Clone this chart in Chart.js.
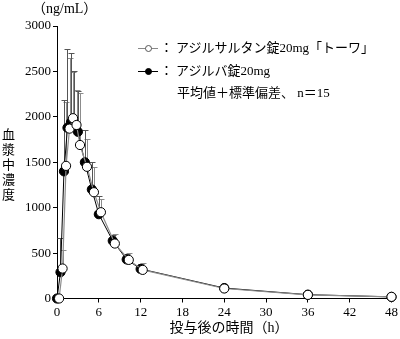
<!DOCTYPE html>
<html lang="ja">
<head>
<meta charset="utf-8">
<script src="https://cdn.jsdelivr.net/npm/chart.js@4/dist/chart.umd.min.js"></script>
<style>
  html, body { margin: 0; padding: 0; background: #fff; }
  #wrap { position: relative; width: 400px; height: 339px; overflow: hidden; }
  #plot { position: absolute; left: 0; top: 0; }
  .txt { position: absolute; color: #000; white-space: nowrap; font-family: "Liberation Serif", "Noto Sans CJK JP", serif; }
  #unit { left: 32px; top: 0px; font-size: 14px; line-height: 17px; }
  #ytitle { left: 0px; top: 128px; font-size: 13px; writing-mode: vertical-rl; letter-spacing: 2px; line-height: 14px; }
  #xtitle { left: 0; width: 458px; text-align: center; top: 319px; font-size: 14px; line-height: 18px; }
  .row { left: 138px; font-size: 13px; line-height: 18px; }
  .sym { display: inline-block; position: relative; width: 20px; height: 18px; vertical-align: top; margin-right: 2px; }
  .sym::before { content: ""; position: absolute; left: 0; right: 0; top: 9px; border-top: 1px solid #000; }
  .sym::after { content: ""; position: absolute; left: 7px; top: 6px; width: 5px; height: 5px; border-radius: 50%; border: 1px solid #000; background: #000; }
  .sym.open::before { border-top-color: #888; }
  .sym.open::after { background: #fff; border-color: #555; }
  .colon { margin-right: 3px; }
</style>
</head>
<body>
<div id="wrap">
  <canvas id="plot" width="400" height="339"></canvas>
  <div class="txt" id="unit">（ng/mL）</div>
  <div class="txt" id="ytitle">血漿中濃度</div>
  <div class="txt" id="xtitle">投与後の時間（h）</div>
  <div class="txt row" style="top:39px"><span class="sym open"></span><span class="colon">：</span>アジルサルタン錠20mg「トーワ」</div>
  <div class="txt row" style="top:62px"><span class="sym"></span><span class="colon">：</span>アジルバ錠20mg</div>
  <div class="txt row" style="top:84px; left:177px">平均値＋標準偏差、 n＝15</div>
</div>
<script>
// sampling times (h)
const hours = [0, 0.5, 1, 1.5, 2, 2.5, 3, 4, 5, 6, 8, 10, 12, 24, 36, 48];

// アジルサルタン錠20mg「トーワ」 (ng/mL)
const towaMean = [0, 330, 1460, 1870, 1985, 1910, 1690, 1450, 1170, 950, 605, 425, 315, 110, 40, 18];
const towaSD = [0, 200, 705, 780, 505, 390, 570, 310, 280, 150, 105, 80, 80, 15, 8, 5];

// アジルバ錠20mg (ng/mL)
const azilvaMean = [0, 290, 1400, 1880, 1940, 1890, 1835, 1500, 1200, 928, 635, 430, 325, 115, 42, 18];
const azilvaSD = [0, 380, 780, 870, 765, 620, 450, 350, 300, 200, 60, 55, 50, 12, 6, 4];

const xTicks = [0, 6, 12, 18, 24, 30, 36, 42, 48];
const yTicks = [0, 500, 1000, 1500, 2000, 2500, 3000];

// the white markers are nudged right over the early time points so both stay visible
const towaShift = 0.3;

const towaPoints = hours.map((h, i) => ({ x: h <= 12 ? h + towaShift : h, y: towaMean[i] }));
const azilvaPoints = hours.map((h, i) => ({ x: h, y: azilvaMean[i] }));

// mean + SD, upper whisker only
const errorBars = {
  id: 'errorBars',
  beforeDatasetsDraw(chart) {
    const { ctx, scales: { x, y } } = chart;
    chart.data.datasets.forEach((ds) => {
      ctx.save();
      ctx.strokeStyle = ds.barColor;
      ctx.lineWidth = 1;
      ds.data.forEach((p, j) => {
        const sd = ds.sd[j];
        if (!sd) return;
        const px = Math.round(x.getPixelForValue(p.x)) + 0.5;
        const y0 = y.getPixelForValue(p.y);
        const y1 = Math.round(y.getPixelForValue(p.y + sd)) + 0.5;
        ctx.beginPath();
        ctx.moveTo(px, y0);
        ctx.lineTo(px, y1);
        ctx.moveTo(px - 3, y1);
        ctx.lineTo(px + 3, y1);
        ctx.stroke();
      });
      ctx.restore();
    });
  },
};

const tickFont = { family: '"Liberation Serif", serif', size: 13 };

new Chart(document.getElementById('plot'), {
  type: 'scatter',
  data: {
    datasets: [
      {
        label: 'アジルサルタン錠20mg「トーワ」',
        data: towaPoints,
        sd: towaSD,
        barColor: '#8c8c8c',
        showLine: true,
        borderColor: '#8c8c8c',
        borderWidth: 1.2,
        pointRadius: 4.6,
        pointBackgroundColor: '#fff',
        pointBorderColor: '#000',
        pointBorderWidth: 1,
        clip: false,
      },
      {
        label: 'アジルバ錠20mg',
        data: azilvaPoints,
        sd: azilvaSD,
        barColor: '#555',
        showLine: true,
        borderColor: '#000',
        borderWidth: 1,
        pointRadius: 4.6,
        pointBackgroundColor: '#000',
        pointBorderColor: '#000',
        pointBorderWidth: 1,
        clip: false,
      },
    ],
  },
  options: {
    responsive: false,
    animation: false,
    events: [],
    layout: { padding: { top: 26, right: 7, left: 0, bottom: 0 } },
    plugins: { legend: { display: false }, tooltip: { enabled: false } },
    scales: {
      x: {
        type: 'linear',
        min: 0,
        max: 48,
        afterBuildTicks: (s) => { s.ticks = xTicks.map((v) => ({ value: v })); },
        afterFit: (s) => { s.height = 40.5; },
        ticks: { color: '#000', font: tickFont, padding: 2, maxRotation: 0, callback: (v) => String(v) },
        grid: { drawOnChartArea: false, tickLength: 4, color: '#000' },
        border: { color: '#000', width: 1 },
      },
      y: {
        min: 0,
        max: 3000,
        afterBuildTicks: (s) => { s.ticks = yTicks.map((v) => ({ value: v })); },
        afterFit: (s) => { s.width = 57; },
        ticks: { color: '#000', font: tickFont, padding: 2, callback: (v) => String(v) },
        grid: { drawOnChartArea: false, tickLength: 4, color: '#000' },
        border: { color: '#000', width: 1 },
      },
    },
  },
  plugins: [errorBars],
});
</script>
</body>
</html>
